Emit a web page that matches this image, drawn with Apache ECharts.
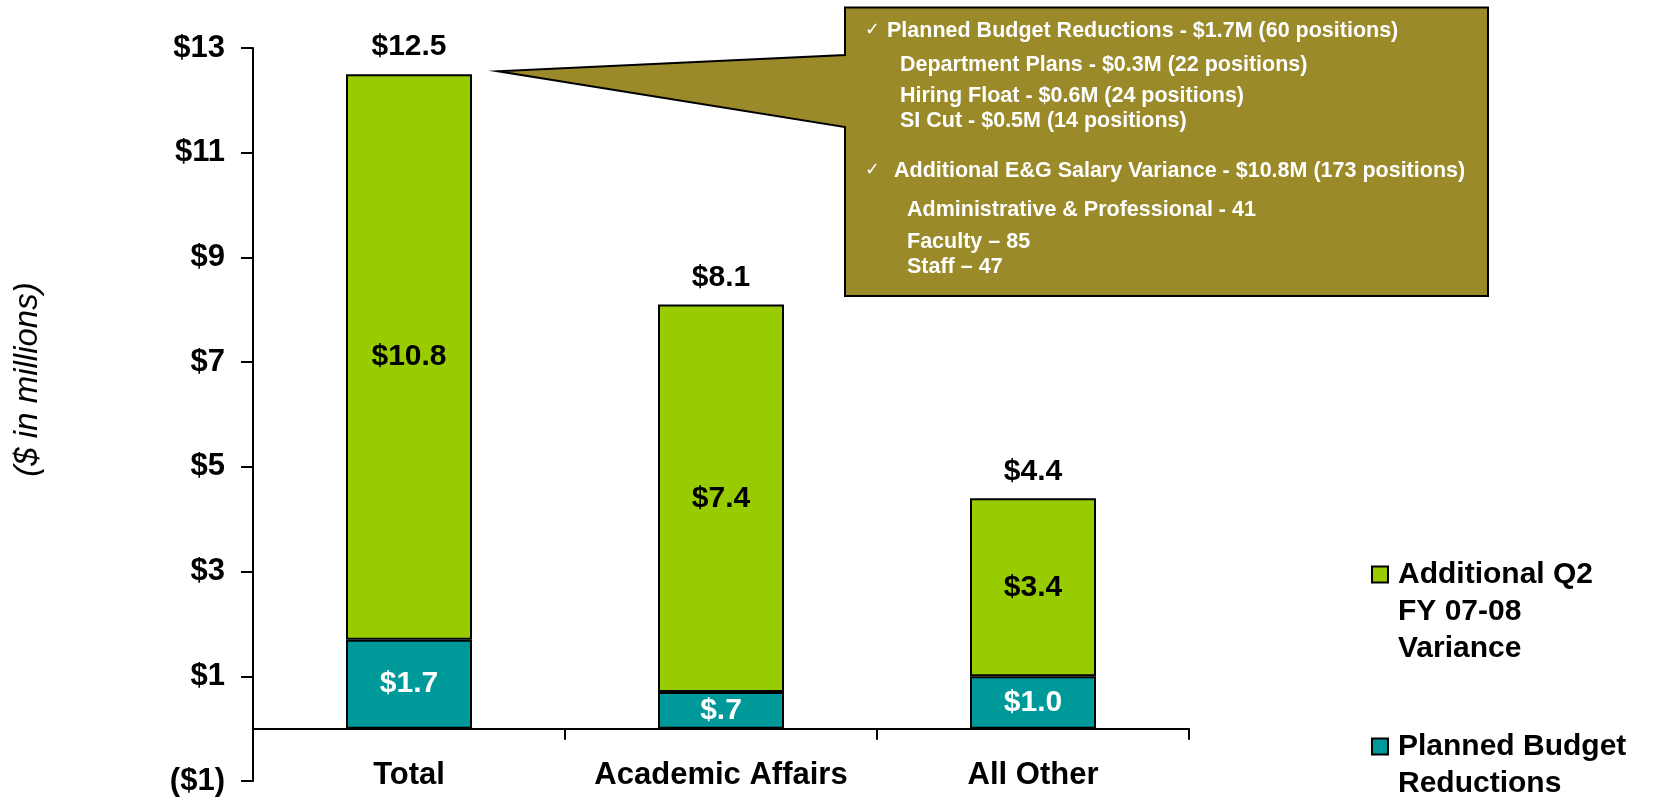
<!DOCTYPE html>
<html>
<head>
<meta charset="utf-8">
<script src="https://cdn.jsdelivr.net/npm/echarts@6/dist/echarts.min.js"></script>
<style>
  html, body { margin: 0; padding: 0; background: #fff; }
  #main { width: 1653px; height: 798px; }
</style>
</head>
<body>
<div id="main"></div>
<script>
var categories = ['Total', 'Academic Affairs', 'All Other'];
var planned = [1.7, 0.7, 1.0];
var additional = [10.8, 7.4, 3.4];
var totals = [12.5, 8.1, 4.4];
var yTicks = [-1, 1, 3, 5, 7, 9, 11, 13];

var plannedName = 'Planned Budget\nReductions';
var additionalName = 'Additional Q2\nFY 07-08\nVariance';

var calloutLines = [
  'Planned Budget Reductions - $1.7M (60 positions)',
  'Department Plans - $0.3M (22 positions)',
  'Hiring Float - $0.6M (24 positions)',
  'SI Cut - $0.5M (14 positions)',
  'Additional E&G Salary Variance - $10.8M (173 positions)',
  'Administrative & Professional - 41',
  'Faculty \u2013 85',
  'Staff \u2013 47'
];

var FONT = '"Liberation Sans", Arial, Helvetica, sans-serif';
var GREEN = '#99CC00', TEAL = '#009999', OLIVE = '#9A8A2A';

function money(v) {
  return '$' + v.toFixed(1).replace(/^0\./, '.');
}

// legend text is centred on the icon, so pad with blank lines above
// to bring the first line level with the square
function legendText(name) {
  var n = name.split('\n').length;
  return new Array(n).join('\n') + name;
}

var W = 1653, H = 798;
var gridPos = { left: 253, right: 464, top: 48, bottom: 17 };
var yMin = yTicks[0], yMax = yTicks[yTicks.length - 1];
// lift the category axis (line, ticks, labels) up to the zero line
var zeroOffset = -(H - gridPos.top - gridPos.bottom) * (0 - yMin) / (yMax - yMin);

var chart = echarts.init(document.getElementById('main'));

var barBase = {
  type: 'bar',
  stack: 'budget',
  barWidth: 126,
  barGap: '-100%',
  itemStyle: { borderColor: '#000', borderWidth: 2 },
  label: {
    show: true,
    position: 'inside',
    fontFamily: FONT,
    fontWeight: 'bold',
    fontSize: 30,
    formatter: function (p) { return money(p.value); }
  }
};

var legendBase = {
  left: 1371, padding: 0,
  orient: 'vertical', selectedMode: false,
  icon: 'rect', itemWidth: 16, itemHeight: 16,
  itemStyle: { borderColor: '#000', borderWidth: 2 },
  formatter: legendText,
  textStyle: { color: '#000', fontFamily: FONT, fontWeight: 'bold', fontSize: 30, lineHeight: 37, padding: [0, 0, 0, 5] }
};

chart.setOption({
  animation: false,
  grid: echarts.util.extend({ containLabel: false, outerBoundsMode: 'none' }, gridPos),
  xAxis: {
    type: 'category',
    data: categories,
    offset: zeroOffset,
    axisLine: { onZero: false, lineStyle: { color: '#000', width: 2 } },
    axisTick: { show: true, interval: 0, length: 11, lineStyle: { color: '#000', width: 2 } },
    axisLabel: { show: true, interval: 0, hideOverlap: false, margin: 31, color: '#000', fontFamily: FONT, fontWeight: 'bold', fontSize: 31 }
  },
  yAxis: {
    type: 'value',
    min: yMin,
    max: yMax,
    interval: 2,
    name: '($ in millions)',
    nameLocation: 'middle',
    nameGap: 209,
    nameRotate: 90,
    nameTextStyle: {
      color: '#000', fontFamily: FONT, fontStyle: 'italic', fontWeight: 'normal',
      fontSize: 33, padding: [0, 0, 0, 70]
    },
    splitLine: { show: false },
    axisLine: { show: true, lineStyle: { color: '#000', width: 2 } },
    axisTick: { show: true, length: 12, lineStyle: { color: '#000', width: 2 } },
    axisLabel: {
      margin: 28, color: '#000', fontFamily: FONT, fontWeight: 'bold', fontSize: 31,
      formatter: function (v) { return v < 0 ? '($' + (-v) + ')' : '$' + v; }
    }
  },
  legend: [
    echarts.util.merge({ data: [additionalName], top: 482 }, legendBase),
    echarts.util.merge({ data: [plannedName], top: 691 }, legendBase)
  ],
  series: [
    echarts.util.merge({
      name: plannedName,
      data: planned,
      itemStyle: { color: TEAL },
      label: { color: '#fff' }
    }, barBase),
    echarts.util.merge({
      name: additionalName,
      data: additional,
      itemStyle: { color: GREEN },
      label: { color: '#000' }
    }, barBase),
    {
      name: 'totals',
      type: 'bar',
      data: totals,
      barWidth: 126,
      barGap: '-100%',
      z: 1,
      itemStyle: { color: 'rgba(0,0,0,0)' },
      label: {
        show: true, position: 'top', distance: 12, color: '#000',
        fontFamily: FONT, fontWeight: 'bold', fontSize: 30,
        formatter: function (p) { return money(p.value); }
      }
    }
  ]
});

// callout box pointing at the top of the Total bar
var barTop = chart.convertToPixel({ seriesIndex: 2 }, [0, totals[0]]);
if (!barTop || isNaN(barTop[0]) || isNaN(barTop[1])) barTop = [409, 74];
var tip = [barTop[0] + 63 + 26, barTop[1] - 3];
var box = { l: 845, r: 1488, t: 7.5, b: 296 };
var lineX = [887, 900, 900, 900, 894, 907, 907, 907];
var lineY = [38, 72, 103, 128, 178, 217, 249, 274];

var graphics = [{
  type: 'polygon',
  z: 10,
  shape: { points: [[box.l, box.t], [box.r, box.t], [box.r, box.b], [box.l, box.b], [box.l, 127], tip, [box.l, 55]] },
  style: { fill: OLIVE, stroke: '#000', lineWidth: 2, lineJoin: 'miter', miterLimit: 20 }
}];
calloutLines.forEach(function (txt, i) {
  graphics.push({
    type: 'text', z: 11, x: lineX[i], y: lineY[i] - 7,
    style: { text: txt, fill: '#fff', fontFamily: FONT, fontWeight: 'bold', fontSize: 21.5, verticalAlign: 'middle' }
  });
});
[0, 4].forEach(function (i) {
  graphics.push({
    type: 'text', z: 11, x: 865, y: lineY[i] - 8,
    style: { text: '\u2713', fill: '#fff', fontFamily: '"DejaVu Sans", sans-serif', fontSize: 18, verticalAlign: 'middle' }
  });
});
chart.setOption({ graphic: graphics });
</script>
</body>
</html>
